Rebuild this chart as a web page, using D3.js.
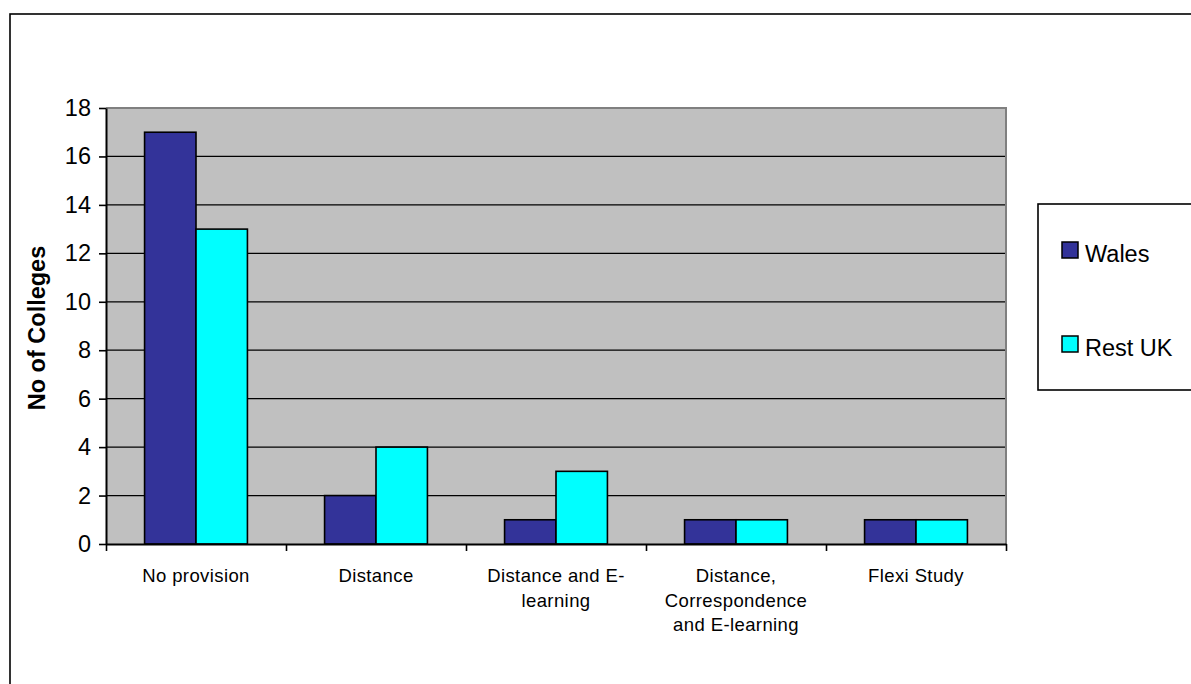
<!DOCTYPE html>
<html>
<head>
<meta charset="utf-8">
<script src="https://cdn.jsdelivr.net/npm/d3@7"></script>
<style>
  html, body { margin: 0; padding: 0; background: #fff; }
  svg { display: block; font-family: "Liberation Sans", Arial, sans-serif; }
</style>
</head>
<body>
<svg id="chart" width="1191" height="684"></svg>
<script>
const categories = [
  ["No provision"],
  ["Distance"],
  ["Distance and E-", "learning"],
  ["Distance,", "Correspondence", "and E-learning"],
  ["Flexi Study"]
];
const seriesNames = ["Wales", "Rest UK"];
const walesValues = [17, 2, 1, 1, 1];
const restUKValues = [13, 4, 3, 1, 1];
const yTicks = [0, 2, 4, 6, 8, 10, 12, 14, 16, 18];
const yTitle = "No of Colleges";
const colors = ["#333399", "#00FFFF"];

const svg = d3.select("#chart");
const plot = { left: 106, top: 108, right: 1006, bottom: 544 };

// outer frame
svg.append("rect").attr("x", 10).attr("y", 14).attr("width", 1200).attr("height", 700)
  .attr("fill", "#fff").attr("stroke", "#000").attr("stroke-width", 1.6);

const catIdx = d3.range(categories.length);
const x0 = d3.scaleBand().domain(catIdx).range([plot.left, plot.right]).paddingInner(0).paddingOuter(0);
const x1 = d3.scaleBand().domain(seriesNames).range([0, x0.bandwidth()]).paddingInner(0).paddingOuter(0.75);
const y = d3.scaleLinear().domain([0, 18]).range([plot.bottom, plot.top]);

// plot background
svg.append("rect").attr("x", plot.left).attr("y", plot.top)
  .attr("width", plot.right - plot.left).attr("height", plot.bottom - plot.top)
  .attr("fill", "#C0C0C0");

// gridlines
svg.append("g").selectAll("line").data(yTicks.filter(d => d > 0 && d < 18)).join("line")
  .attr("x1", plot.left).attr("x2", plot.right)
  .attr("y1", d => y(d)).attr("y2", d => y(d))
  .attr("stroke", "#000").attr("stroke-width", 1.2);

// gray top/right border
svg.append("path")
  .attr("d", `M${plot.left},${plot.top}H${plot.right}V${plot.bottom}`)
  .attr("fill", "none").attr("stroke", "#808080").attr("stroke-width", 2);

// bars
const data = catIdx.map(i => [walesValues[i], restUKValues[i]]);
const groups = svg.append("g").selectAll("g").data(data).join("g")
  .attr("transform", (d, i) => `translate(${x0(i)},0)`);
groups.selectAll("rect").data(d => d.map((v, j) => ({ v, j }))).join("rect")
  .attr("x", d => x1(seriesNames[d.j]))
  .attr("width", x1.bandwidth())
  .attr("y", d => y(d.v))
  .attr("height", d => y(0) - y(d.v))
  .attr("fill", d => colors[d.j])
  .attr("stroke", "#000").attr("stroke-width", 1.6);

// y axis
const yAxis = d3.axisLeft(y).tickValues(yTicks).tickSize(7).tickPadding(8).tickSizeOuter(0);
const gy = svg.append("g").attr("transform", `translate(${plot.left},0)`).call(yAxis);
gy.select(".domain").attr("stroke", "#000").attr("stroke-width", 2);
gy.selectAll(".tick line").attr("stroke", "#000").attr("stroke-width", 1.6);
gy.selectAll(".tick text").attr("font-size", "23.5px").attr("fill", "#000")
  .attr("font-family", "'Liberation Sans', Arial, sans-serif");

// x axis
const boundaries = d3.range(categories.length + 1).map(i => plot.left + i * x0.bandwidth());
const xLin = d3.scaleLinear().domain([plot.left, plot.right]).range([plot.left, plot.right]);
const xAxis = d3.axisBottom(xLin).tickValues(boundaries).tickSize(7).tickFormat("").tickSizeOuter(0);
const gx = svg.append("g").attr("transform", `translate(0,${plot.bottom})`).call(xAxis);
gx.select(".domain").attr("stroke", "#000").attr("stroke-width", 2);
gx.selectAll(".tick line").attr("stroke", "#000").attr("stroke-width", 1.6);

// category labels
const labels = svg.append("g").selectAll("text").data(categories).join("text")
  .attr("x", (d, i) => x0(i) + x0.bandwidth() / 2)
  .attr("y", 582)
  .attr("text-anchor", "middle")
  .attr("font-size", "18.5px")
  .attr("letter-spacing", "0.4px")
  .attr("fill", "#000");
labels.selectAll("tspan").data(d => d).join("tspan")
  .attr("x", function () { return this.parentNode.getAttribute("x"); })
  .attr("dy", (d, i) => i === 0 ? 0 : 24.5)
  .text(d => d);

// y title
svg.append("text")
  .attr("transform", `translate(45,${(plot.top + plot.bottom) / 2 + 2}) rotate(-90)`)
  .attr("text-anchor", "middle")
  .attr("font-size", "23.5px").attr("font-weight", "bold").attr("fill", "#000")
  .text(yTitle);

// legend
const lg = svg.append("g");
lg.append("rect").attr("x", 1038).attr("y", 204).attr("width", 200).attr("height", 186)
  .attr("fill", "#fff").attr("stroke", "#000").attr("stroke-width", 1.6);
const items = lg.selectAll("g").data(seriesNames).join("g")
  .attr("transform", (d, i) => `translate(1062,${242 + i * 94})`);
items.append("rect").attr("width", 16).attr("height", 16)
  .attr("fill", (d, i) => colors[i]).attr("stroke", "#000").attr("stroke-width", 1.5);
items.append("text").attr("x", 23).attr("y", 19.5).attr("font-size", "23.5px").attr("fill", "#000")
  .text(d => d);
</script>
</body>
</html>
